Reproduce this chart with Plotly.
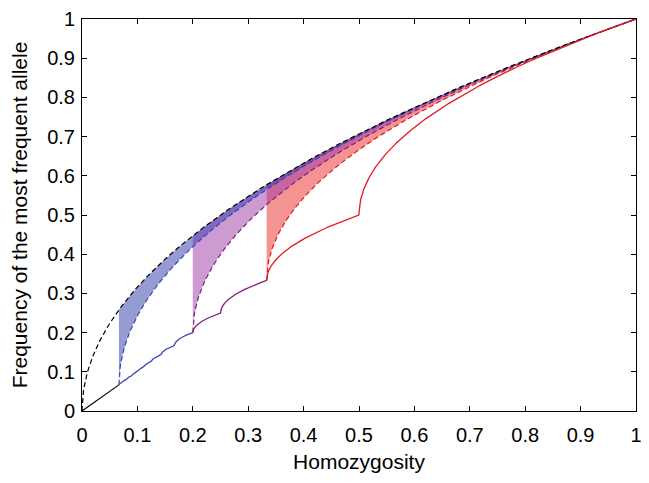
import numpy as np
import plotly.graph_objects as go

# numbers of alleles shown (one shaded region each), read from where each region starts (H = 1/K)
k_regioes = [3, 5, 15]
cor_linha = ["rgb(228,25,30)", "rgb(125,30,125)", "rgb(55,70,185)"]
cor_area = ["rgba(235,40,40,0.5)", "rgba(155,55,165,0.5)", "rgba(45,55,170,0.5)"]
# segment of the lower bound drawn with each colour
limites_linha = [(1 / 3, 1.0), (1 / 5, 1 / 3), (1 / 15, 1 / 5)]

ticks = [0, 0.1, 0.2, 0.3, 0.4, 0.5, 0.6, 0.7, 0.8, 0.9, 1]
tick_txt = ["0", "0.1", "0.2", "0.3", "0.4", "0.5", "0.6", "0.7", "0.8", "0.9", "1"]


####################################################
# BOUNDS
####################################################

def limite_sup(h):
    return np.sqrt(h)


def limite_sup_k(h, k):
    return (1 + np.sqrt(np.clip((k - 1) * (k * h - 1), 0, None))) / k


def limite_inf(h):
    k = np.ceil(1 / h - 1e-12)
    return (1 + np.sqrt(np.clip((k * h - 1) / (k - 1), 0, None))) / k


def grade(a, b, n=600):
    return np.linspace(a, b, n)


fig = go.Figure()

# shaded regions (red first, blue on top)
for k, area in zip(k_regioes, cor_area):
    h = grade(1 / k, 1, 800)
    xs = np.concatenate([h, h[::-1]])
    ys = np.concatenate([limite_sup(h), limite_sup_k(h[::-1], k)])
    fig.add_trace(go.Scatter(
        x=xs, y=ys, mode="lines", fill="toself",
        fillcolor=area, line=dict(width=0), hoverinfo="skip", showlegend=False
    ))

# dashed upper bounds for each K
for k, cor in zip(k_regioes, cor_linha):
    h = grade(1 / k, 1, 800)
    fig.add_trace(go.Scatter(
        x=h, y=limite_sup_k(h, k), mode="lines",
        line=dict(color=cor, width=1.2, dash="5px,3px"), showlegend=False
    ))

# dashed sqrt(H)
h = grade(0, 1, 1500)
fig.add_trace(go.Scatter(
    x=h, y=limite_sup(h), mode="lines",
    line=dict(color="black", width=1.2, dash="5px,3px"), showlegend=False
))

# solid lower bound
fig.add_trace(go.Scatter(
    x=[0, 1 / 15], y=[0, 1 / 15], mode="lines",
    line=dict(color="black", width=1.2), showlegend=False
))
for (a, b), cor in zip(limites_linha, cor_linha):
    h = grade(a, b, 1500)
    fig.add_trace(go.Scatter(
        x=h, y=limite_inf(h), mode="lines",
        line=dict(color=cor, width=1.3), showlegend=False
    ))

eixo = dict(
    range=[0, 1], tickvals=ticks, ticktext=tick_txt,
    ticks="inside", ticklen=5, tickcolor="black",
    showline=True, linecolor="black", linewidth=1, mirror="ticks",
    showgrid=False, zeroline=False, automargin=False,
    ticklabeloverflow="allow",
    tickfont=dict(size=20, color="black")
)

# the page body has an 8px margin, so the figure is 8px smaller than the window
fig.update_layout(
    template="plotly_white",
    width=641, height=475,
    plot_bgcolor="white", paper_bgcolor="white",
    font=dict(family="Liberation Sans, Arial, sans-serif", color="black"),
    margin=dict(l=74, r=13, t=11, b=72),
    xaxis=dict(eixo, ticklabelstandoff=6,
               title=dict(text="Homozygosity", font=dict(size=21), standoff=9)),
    yaxis=dict(eixo, ticklabelstandoff=2,
               title=dict(text="Frequency of the most frequent allele", font=dict(size=21), standoff=13)),
)

fig.write_html("out.html")
